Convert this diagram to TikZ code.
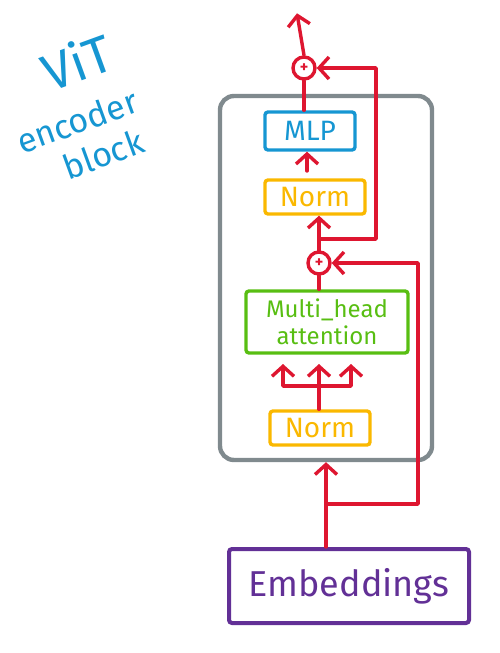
\documentclass[tikz,border=0pt]{standalone}
\usepackage{fontspec}
\setmainfont{Fira Sans}
\usepackage{tikz}
\usetikzlibrary{calc}
\usetikzlibrary{arrows.meta}
\definecolor{vitred}{RGB}{222,22,48}
\definecolor{vitgray}{RGB}{128,138,142}
\definecolor{vitblue}{RGB}{22,150,210}
\definecolor{vityellow}{RGB}{250,184,0}
\definecolor{vitgreen}{RGB}{88,190,18}
\definecolor{vitpurple}{RGB}{98,48,150}

\begin{document}
\begin{tikzpicture} [x=1pt, y=-1pt, line width=3.4pt, >={Straight Barb[length=10pt,width=22pt]},
  layer/.style={draw, rounded corners=3, inner sep=2, font=\fontsize{28}{30}\selectfont},
  addnode/.style={draw=vitred, circle, minimum size=22, inner sep=0, font=\bfseries\fontsize{16}{16}\selectfont, text=vitred},
  flow/.style={vitred, line width=3.4pt, line cap=round, line join=round},
  title/.style={text=vitblue, rotate=20, inner sep=0}]
\useasboundingbox (0,0) rectangle (500,653);
\node[title, font=\fontsize{52}{52}\selectfont] (tvit) at (77,61) {ViT};
\node[title, font=\fontsize{34}{34}\selectfont] (tenc) at (77,121) {encoder};
\node[title, font=\fontsize{34}{34}\selectfont] (tblk) at (103,154) {block};

\node[draw=vitgray, line width=4.4pt, rounded corners=14, minimum width=212, minimum height=364] (enc) at (326,278) {};
\node[layer, draw=vitblue, text=vitblue, minimum width=90, minimum height=38] (mlp) at (310,131) {MLP};
\node[layer, draw=vityellow, text=vityellow, minimum width=100, minimum height=34] (norm2) at (315,197) {Norm};
\node[layer, draw=vitgreen, text=vitgreen, minimum width=162, minimum height=62, align=center, font=\fontsize{24}{27}\selectfont] (mha) at (327,322) {Multi\_head\\attention};
\node[layer, draw=vityellow, text=vityellow, minimum width=100, minimum height=34] (norm1) at (320,428) {Norm};
\node[layer, draw=vitpurple, text=vitpurple, line width=4pt, minimum width=240, minimum height=74, font=\fontsize{36}{38}\selectfont] (emb) at (349,586) {Embeddings};
\node[addnode] (addA) at (319,263) {+};
\node[addnode] (addB) at (304,68) {+};

% input and first residual
\coordinate (s1) at (326,504);
\draw[flow] (s1 |- emb.north) -- (s1);
\draw[flow, ->] (s1) -- (s1 |- enc.south);
\draw[flow, ->] (s1) -- ++(92,0) |- (addA.east);
% norm -> attention
\coordinate (f1) at (319,386);
\draw[flow] (f1 |- norm1.north) -- (f1);
\foreach \dx in {-36,0,32} {
 \draw[flow, ->] (f1) -- ++(\dx,0) -- ++(0,-22);
}
\draw[flow] (addA.south) -- (addA.south |- mha.north);
% second residual
\coordinate (s2) at (319,239);
\coordinate (n2) at (307,171);
\draw[flow, ->] (addA.north) -- (addA.north |- norm2.south);
\draw[flow, ->] (s2) -- ++(57,0) |- (addB.east);
\draw[flow, ->] (n2) -- (n2 |- mlp.south);
\draw[flow] (addB.south) -- (addB.south |- mlp.north);
\draw[flow, ->] (addB.north) -- ++(-7,-42);
\end{tikzpicture}
\end{document}
